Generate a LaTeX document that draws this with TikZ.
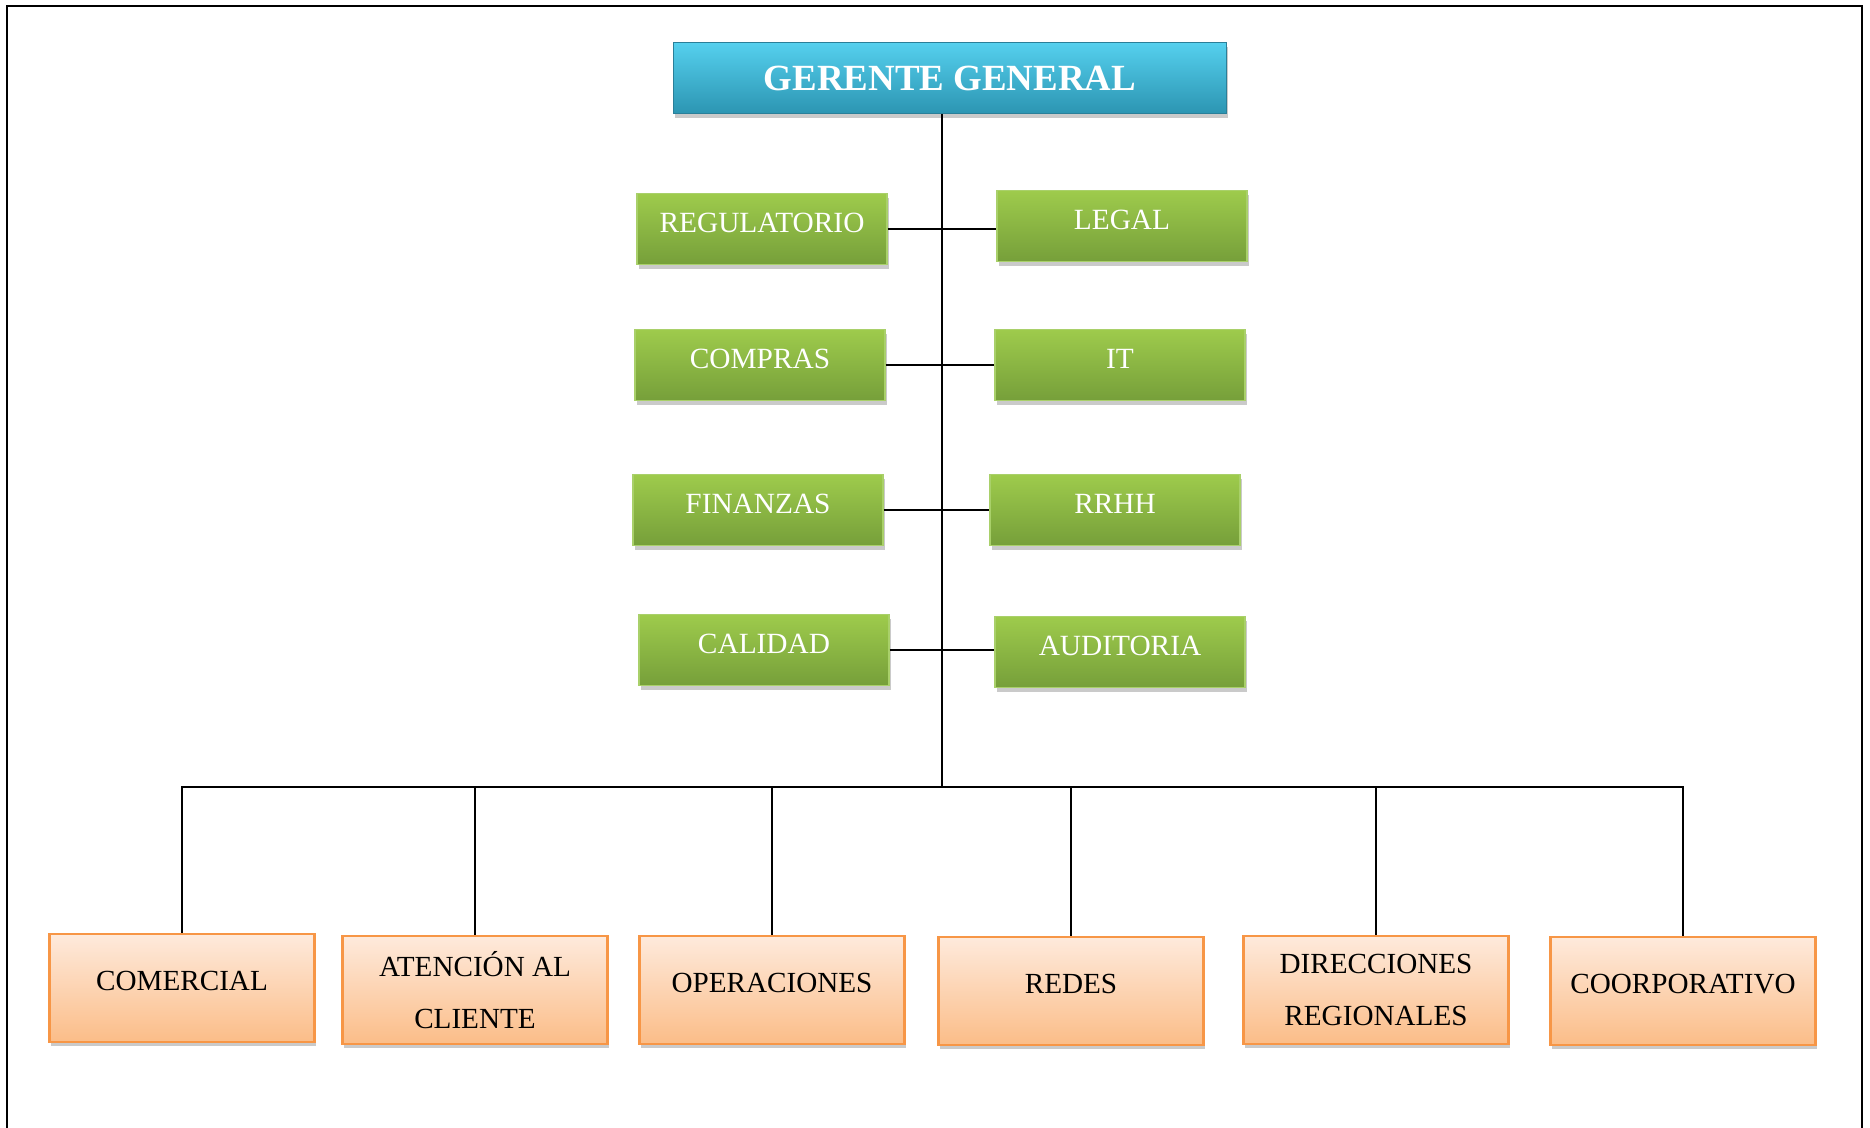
\documentclass[tikz,border=0pt]{standalone}
\usepackage{fontspec}
\setmainfont{Liberation Serif}
\usetikzlibrary{shadows}
\definecolor{gerArriba}{HTML}{55D0EE}
\definecolor{gerAbajo}{HTML}{2C95B2}
\definecolor{gerBorde}{HTML}{2A7F99}
\definecolor{staffArriba}{HTML}{9ECB4C}
\definecolor{staffAbajo}{HTML}{769F3A}
\definecolor{staffBorde}{HTML}{A9D06A}
\definecolor{areaArriba}{HTML}{FEEADC}
\definecolor{areaAbajo}{HTML}{FBBD88}
\definecolor{areaBorde}{HTML}{F79646}
\tikzset{
    sombra/.style={drop shadow={shadow xshift=1pt, shadow yshift=-2.5pt, opacity=0.35, fill=black!60}},
    gerente/.style={draw=gerBorde, line width=0.8pt, top color=gerArriba, bottom color=gerAbajo,
        text=white, minimum width=11.06cm, minimum height=1.42cm, sombra,
        font=\bfseries\fontsize{21}{25}\selectfont},
    staff/.style={draw=staffBorde, line width=0.8pt, top color=staffArriba, bottom color=staffAbajo,
        text=white, minimum width=5cm, minimum height=1.42cm, sombra, text depth=0.25cm,
        font=\fontsize{16.7}{20}\selectfont},
    area/.style={draw=areaBorde, line width=1.2pt, top color=areaArriba, bottom color=areaAbajo,
        minimum width=5.3cm, minimum height=2.16cm, sombra, align=center,
        font=\fontsize{16.6}{29.5}\selectfont},
    unalinea/.style={text depth=0.3cm},
    linea/.style={line width=1.1pt}
}
\begin{document}
\begin{tikzpicture}[x=0.02cm, y=-0.02cm]
    \useasboundingbox (0,0) rectangle (1870,1128);
    \draw[line width=1.6pt] (7,1128) -- (7,6) -- (1862,6) -- (1862,1128);
    \node[gerente] (ger) at (950,78) {GERENTE GENERAL};
    \coordinate (bus) at (942,787);
    \foreach \nombre/\x/\y/\texto in {reg/762/229/REGULATORIO, leg/1122/226/LEGAL,
        comp/760/365/COMPRAS, it/1120/365/IT, fin/758/510/FINANZAS, rrhh/1115/510/RRHH,
        cal/764/650/CALIDAD, aud/1120/652/AUDITORIA} {
        \node[staff] (\nombre) at (\x,\y) {\texto};
    }
    \draw[linea] (ger.south -| bus) -- (bus);
    \foreach \a/\b in {reg/leg, comp/it, fin/rrhh, cal/aud} {
        \draw[linea] (\a.east) -- (\a.east -| \b.west);
    }
    \foreach \nombre/\x/\y/\op/\texto in {come/182/988/unalinea/COMERCIAL, aten/475/990//{ATENCIÓN AL\\CLIENTE},
        ope/772/990/unalinea/OPERACIONES, red/1071/991/unalinea/REDES,
        dir/1376/990//{DIRECCIONES\\REGIONALES}, coor/1683/991/unalinea/COORPORATIVO} {
        \node[area, \op] (\nombre) at (\x,\y) {\texto};
        \draw[line width=0.9pt] (\nombre.north) |- (bus);
    }
\end{tikzpicture}
\end{document}
